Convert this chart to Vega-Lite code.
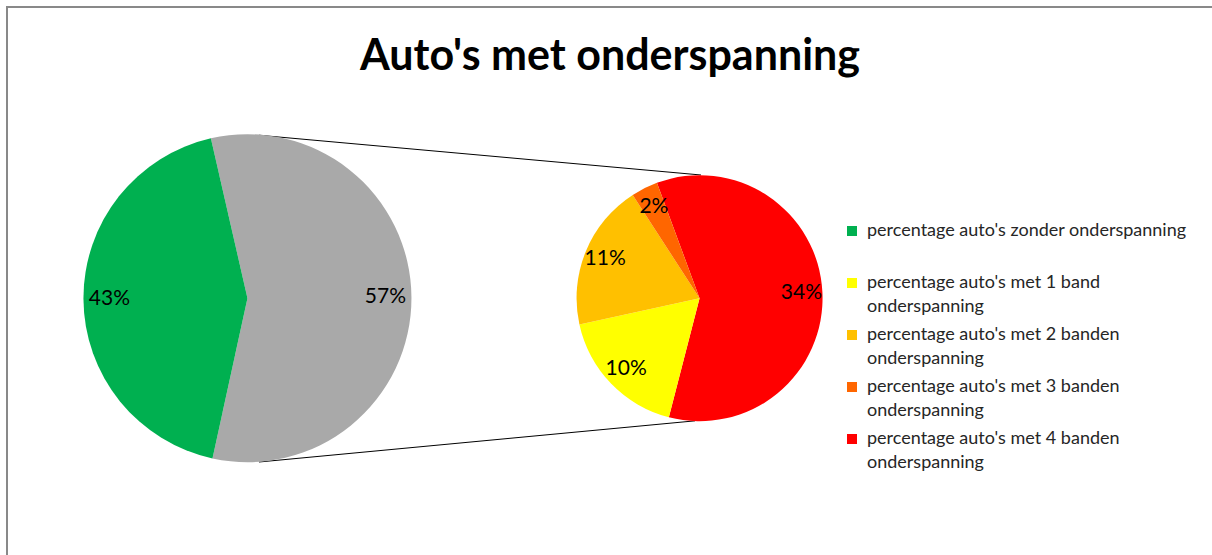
{
  "$schema": "https://vega.github.io/schema/vega-lite/v6.json",
  "width": 1215,
  "height": 560,
  "autosize": {"type": "none"},
  "padding": {"left": 7, "top": 7, "right": 0, "bottom": 0},
  "background": "white",
  "title": {
    "text": "Auto's met onderspanning",
    "font": "Lato",
    "fontSize": 43,
    "fontWeight": "bold",
    "color": "#000000",
    "anchor": "middle",
    "frame": "group",
    "dx": -4.5,
    "offset": -72
  },
  "config": {
    "view": {"stroke": "#898989", "strokeWidth": 2},
    "font": "Lato"
  },
  "datasets": {
    "slices": [
      {"pie": "hoofd", "categorie": "overige auto's (met onderspanning)", "waarde": 57, "label": "57%", "volgorde": 1},
      {"pie": "hoofd", "categorie": "percentage auto's zonder onderspanning", "waarde": 43, "label": "43%", "volgorde": 2},
      {"pie": "detail", "categorie": "percentage auto's met 4 banden onderspanning", "waarde": 34, "label": "34%", "volgorde": 1},
      {"pie": "detail", "categorie": "percentage auto's met 1 band onderspanning", "waarde": 10, "label": "10%", "volgorde": 2},
      {"pie": "detail", "categorie": "percentage auto's met 2 banden onderspanning", "waarde": 11, "label": "11%", "volgorde": 3},
      {"pie": "detail", "categorie": "percentage auto's met 3 banden onderspanning", "waarde": 2, "label": "2%", "volgorde": 4}
    ]
  },
  "layer": [
    {
      "data": {"values": [{}]},
      "mark": {"type": "rule", "color": "#000000", "strokeWidth": 1},
      "encoding": {
        "x": {"datum": 20.74, "type": "quantitative", "scale": {"domain": [0, 100]}, "axis": null},
        "y": {"datum": 77.1, "type": "quantitative", "scale": {"domain": [0, 100]}, "axis": null},
        "x2": {"datum": 57.12},
        "y2": {"datum": 70.0}
      }
    },
    {
      "data": {"values": [{}]},
      "mark": {"type": "rule", "color": "#000000", "strokeWidth": 1},
      "encoding": {
        "x": {"datum": 20.74, "type": "quantitative", "scale": {"domain": [0, 100]}, "axis": null},
        "y": {"datum": 18.75, "type": "quantitative", "scale": {"domain": [0, 100]}, "axis": null},
        "x2": {"datum": 56.63},
        "y2": {"datum": 26.1}
      }
    },
    {
      "data": {"name": "slices"},
      "transform": [{"filter": "datum.pie == 'hoofd'"}],
      "mark": {"type": "arc", "outerRadius": 164},
      "encoding": {
        "x": {"datum": 19.79, "type": "quantitative", "scale": {"domain": [0, 100]}, "axis": null},
        "y": {"datum": 48, "type": "quantitative", "scale": {"domain": [0, 100]}, "axis": null},
        "theta": {"field": "waarde", "type": "quantitative", "stack": true, "scale": {"range": [-0.225, 6.0582]}},
        "order": {"field": "volgorde", "type": "quantitative"},
        "color": {
          "field": "categorie",
          "type": "nominal",
          "scale": {
            "domain": [
              "overige auto's (met onderspanning)",
              "percentage auto's zonder onderspanning",
              "percentage auto's met 1 band onderspanning",
              "percentage auto's met 2 banden onderspanning",
              "percentage auto's met 3 banden onderspanning",
              "percentage auto's met 4 banden onderspanning"
            ],
            "range": ["#A9A9A9", "#00B050", "#FFFF00", "#FFC000", "#FF6600", "#FF0000"]
          },
          "legend": {
            "orient": "none",
            "legendX": 836,
            "legendY": 215,
            "title": null,
            "values": [
              "percentage auto's zonder onderspanning",
              "percentage auto's met 1 band onderspanning",
              "percentage auto's met 2 banden onderspanning",
              "percentage auto's met 3 banden onderspanning",
              "percentage auto's met 4 banden onderspanning"
            ],
            "symbolType": "square",
            "symbolSize": 100,
            "symbolStrokeWidth": 0,
            "symbolOpacity": 1,
            "labelFont": "Lato",
            "labelFontSize": 18,
            "labelColor": "#262626",
            "labelLimit": 500,
            "labelOffset": 6,
            "gridAlign": "all",
            "rowPadding": 10,
            "labelExpr": "indexof(datum.label, 'zonder') >= 0 ? datum.label : [replace(datum.label, ' onderspanning', ''), 'onderspanning']",
            "encode": {"labels": {"update": {"lineHeight": {"value": 24}}}}
          }
        }
      }
    },
    {
      "data": {"name": "slices"},
      "transform": [{"filter": "datum.pie == 'hoofd'"}],
      "mark": {"type": "text", "font": "Lato", "fontSize": 21, "color": "#000000"},
      "encoding": {
        "x": {"datum": 19.79, "type": "quantitative", "scale": {"domain": [0, 100]}, "axis": null},
        "y": {"datum": 48, "type": "quantitative", "scale": {"domain": [0, 100]}, "axis": null},
        "theta": {"field": "waarde", "type": "quantitative", "stack": true, "scale": {"range": [-0.225, 6.0582]}},
        "order": {"field": "volgorde", "type": "quantitative"},
        "radius": {"value": 138},
        "text": {"field": "label", "type": "nominal"}
      }
    },
    {
      "data": {"name": "slices"},
      "transform": [{"filter": "datum.pie == 'detail'"}],
      "mark": {"type": "arc", "outerRadius": 123},
      "encoding": {
        "x": {"datum": 57.0, "type": "quantitative", "scale": {"domain": [0, 100]}, "axis": null},
        "y": {"datum": 48, "type": "quantitative", "scale": {"domain": [0, 100]}, "axis": null},
        "theta": {"field": "waarde", "type": "quantitative", "stack": true, "scale": {"range": [-0.354, 5.9292]}},
        "order": {"field": "volgorde", "type": "quantitative"},
        "color": {"field": "categorie", "type": "nominal"}
      }
    },
    {
      "data": {"name": "slices"},
      "transform": [{"filter": "datum.pie == 'detail'"}],
      "mark": {"type": "text", "font": "Lato", "fontSize": 21, "color": "#000000"},
      "encoding": {
        "x": {"datum": 57.0, "type": "quantitative", "scale": {"domain": [0, 100]}, "axis": null},
        "y": {"datum": 48, "type": "quantitative", "scale": {"domain": [0, 100]}, "axis": null},
        "theta": {"field": "waarde", "type": "quantitative", "stack": true, "scale": {"range": [-0.354, 5.9292]}},
        "order": {"field": "volgorde", "type": "quantitative"},
        "radius": {"value": 102},
        "text": {"field": "label", "type": "nominal"}
      }
    }
  ],
  "resolve": {"scale": {"theta": "independent"}}
}
